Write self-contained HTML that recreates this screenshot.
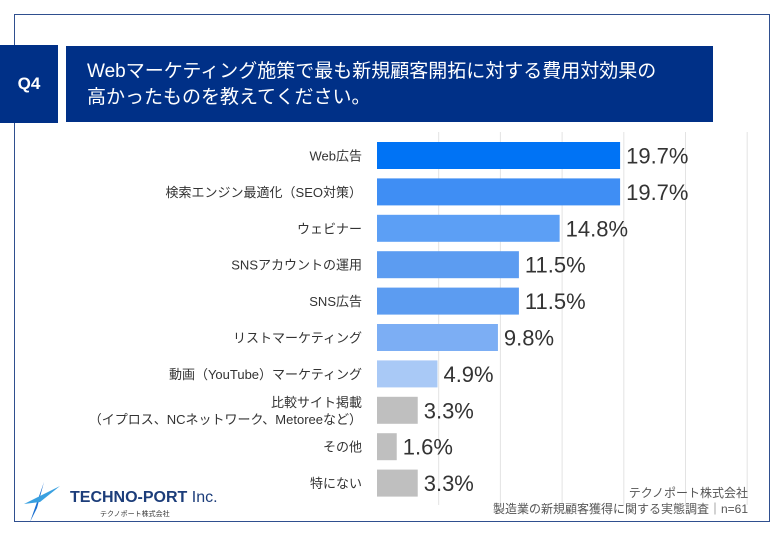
<!DOCTYPE html>
<html><head><meta charset="utf-8">
<style>
body{margin:0;width:780px;height:540px;background:#fff;overflow:hidden;font-family:"Liberation Sans","Noto Sans CJK JP",sans-serif;}
#frame{position:absolute;left:14px;top:14px;width:756px;height:508px;border:1.5px solid #2f4f8f;box-sizing:border-box;}
#q4{position:absolute;left:0;top:45px;width:58px;height:78px;background:#003087;color:#fff;font-size:17px;font-weight:bold;display:flex;align-items:center;justify-content:center;}
#title{position:absolute;left:66px;top:46px;width:647px;height:76px;background:#003087;color:#fff;font-size:19px;line-height:26px;padding:13px 0 0 21px;box-sizing:border-box;}
.src{position:absolute;right:32px;font-size:12px;color:#555;text-align:right;}
</style></head><body>
<div id="frame"></div>
<div id="q4">Q4</div>
<div id="title">Webマーケティング施策で最も新規顧客開拓に対する費用対効果の<br>高かったものを教えてください。</div>
<svg id="chart" width="780" height="540" style="position:absolute;left:0;top:0"></svg>
<div class="src" style="top:484px">テクノポート株式会社</div>
<div class="src" style="top:500px">製造業の新規顧客獲得に関する実態調査｜n=61</div>
<div style="position:absolute;left:22px;top:478px">
<svg width="200" height="45"><path d="M8 44 L22 4 L15 30 Z" fill="#1a6fd0"/><path d="M2 26 L38 8 L18 24 Z" fill="#39a0e0"/>
<text x="48" y="24" font-size="16" font-weight="bold" fill="#1c3d7a" font-family="Liberation Sans, sans-serif">TECHNO-PORT <tspan font-weight="normal">Inc.</tspan></text>
<text x="78" y="38" font-size="7" fill="#333" font-family="Noto Sans CJK JP, sans-serif">テクノポート株式会社</text></svg></div>
<script>
const categories=["Web広告","検索エンジン最適化（SEO対策）","ウェビナー","SNSアカウントの運用","SNS広告","リストマーケティング","動画（YouTube）マーケティング","比較サイト掲載\n（イプロス、NCネットワーク、Metoreeなど）","その他","特にない"];
const values=[19.7,19.7,14.8,11.5,11.5,9.8,4.9,3.3,1.6,3.3];
const colors=["#0073f5","#3f8ef4","#5c9ff5","#5c9cf1","#5c9cf1","#7caef4","#a9c9f6","#bfbfbf","#bfbfbf","#bfbfbf"];
const gridTicks=[5,10,15,20,25,30];
const svg=document.getElementById('chart');const NS="http://www.w3.org/2000/svg";
const x0=377,pxPer=12.34,y0=142,pitch=36.4,bh=27;
const xs=v=>x0+v*pxPer;
function mk(t,a){const e=document.createElementNS(NS,t);for(const k in a)e.setAttribute(k,a[k]);svg.appendChild(e);return e;}
gridTicks.forEach(t=>{const g=mk('line',{x1:xs(t),x2:xs(t),y1:132,y2:505,stroke:'#e3e3e3','stroke-width':1});

});
values.forEach((v,i)=>{const y=y0+i*pitch;
const r=mk('rect',{x:x0,y:y,width:xs(v)-x0,height:bh,fill:colors[i]});


const t=mk('text',{x:xs(v)+6,y:y+bh/2+8,'font-size':22,fill:'#333'});t.textContent=v.toFixed(1)+'%';


const lines=categories[i].split('\n');
lines.forEach((ln,j)=>{const c=mk('text',{x:362,y:y+bh/2+5+(j-(lines.length-1)/2)*17,'font-size':13,fill:'#333','text-anchor':'end'});c.textContent=ln;

});
});
</script>
</body></html>
